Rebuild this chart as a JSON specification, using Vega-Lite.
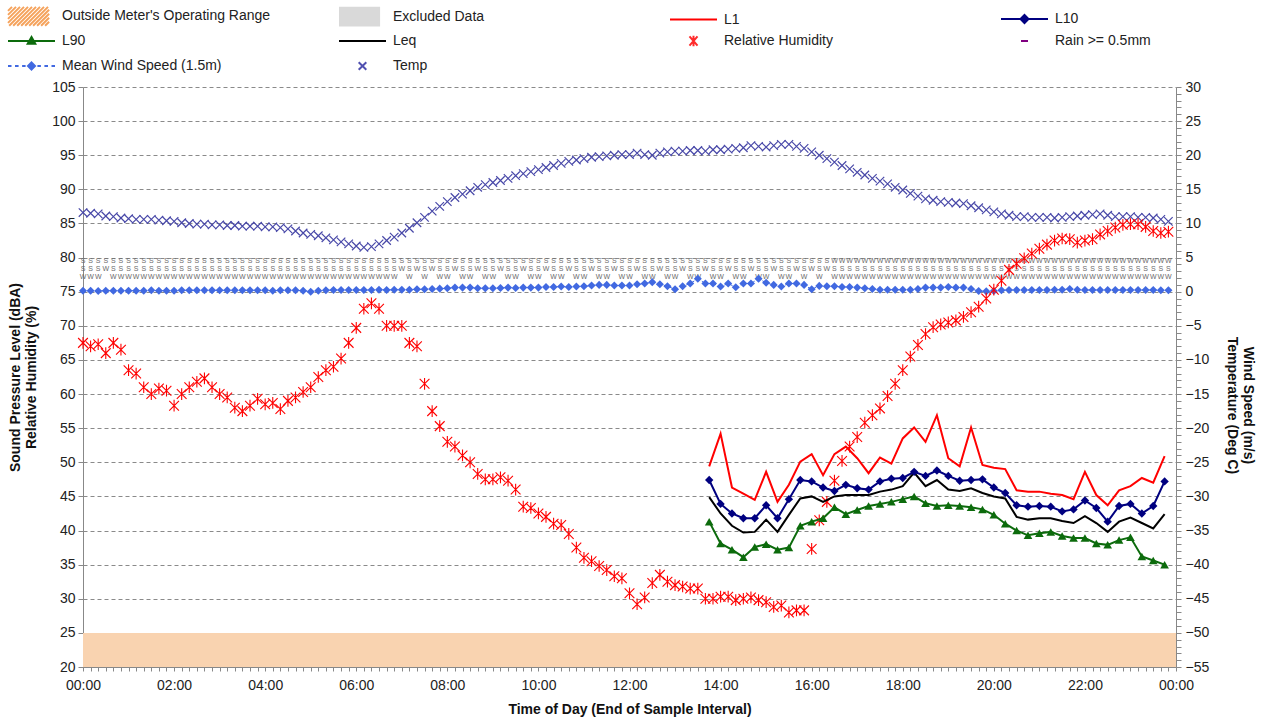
{
"$schema":"https://vega.github.io/schema/vega-lite/v6.json",
"width":1093,"height":580,
"autosize":{"type":"none"},
"padding":{"left":83,"top":87,"right":87,"bottom":56},
"background":"white",
"config":{"font":"Liberation Sans","view":{"stroke":null}},
"datasets":{
"band":[{"lo":20,"hi":25,"m0":0,"m1":1440}],
"keys":[{"name":"Outside Meter's Operating Range"},{"name":"Excluded Data"},{"name":"L1"},{"name":"L10"},{"name":"L90"},{"name":"Leq"},{"name":"Relative Humidity"},{"name":"Rain >= 0.5mm"},{"name":"Mean Wind Speed (1.5m)"},{"name":"Temp"}],
"noise":[
{"m":825,"L1":49.4,"L10":47.4,"Leq":44.9,"L90":41.3},
{"m":840,"L1":54.2,"L10":43.9,"Leq":42.5,"L90":38.1},
{"m":855,"L1":46.3,"L10":42.5,"Leq":40.7,"L90":37.2},
{"m":870,"L1":45.4,"L10":41.8,"Leq":39.7,"L90":36.1},
{"m":885,"L1":44.5,"L10":41.8,"Leq":39.8,"L90":37.6},
{"m":900,"L1":48.6,"L10":43.7,"Leq":41.6,"L90":38.0},
{"m":915,"L1":44.2,"L10":41.8,"Leq":39.8,"L90":37.2},
{"m":930,"L1":46.7,"L10":44.6,"Leq":42.3,"L90":37.5},
{"m":945,"L1":50.1,"L10":47.4,"Leq":44.7,"L90":40.7},
{"m":960,"L1":51.2,"L10":47.2,"Leq":45.0,"L90":41.3},
{"m":975,"L1":48.1,"L10":46.3,"Leq":44.2,"L90":41.8},
{"m":990,"L1":51.2,"L10":45.8,"Leq":45.0,"L90":43.4},
{"m":1005,"L1":52.3,"L10":46.7,"Leq":45.2,"L90":42.4},
{"m":1020,"L1":50.6,"L10":46.2,"Leq":45.2,"L90":43.0},
{"m":1035,"L1":48.4,"L10":46.0,"Leq":45.2,"L90":43.6},
{"m":1050,"L1":50.7,"L10":47.2,"Leq":45.7,"L90":43.9},
{"m":1065,"L1":49.8,"L10":47.6,"Leq":46.0,"L90":44.2},
{"m":1080,"L1":53.5,"L10":47.7,"Leq":46.5,"L90":44.6},
{"m":1095,"L1":55.1,"L10":48.6,"Leq":48.5,"L90":45.0},
{"m":1110,"L1":53.0,"L10":48.0,"Leq":46.5,"L90":44.0},
{"m":1125,"L1":56.9,"L10":48.8,"Leq":47.4,"L90":43.6},
{"m":1140,"L1":50.6,"L10":48.0,"Leq":46.0,"L90":43.7},
{"m":1155,"L1":49.4,"L10":47.3,"Leq":45.8,"L90":43.6},
{"m":1170,"L1":55.1,"L10":47.4,"Leq":46.2,"L90":43.4},
{"m":1185,"L1":49.6,"L10":47.5,"Leq":45.5,"L90":43.1},
{"m":1200,"L1":49.2,"L10":46.3,"Leq":45.0,"L90":42.3},
{"m":1215,"L1":49.0,"L10":45.5,"Leq":44.7,"L90":41.0},
{"m":1230,"L1":45.9,"L10":43.7,"Leq":42.0,"L90":40.0},
{"m":1245,"L1":45.7,"L10":43.5,"Leq":41.6,"L90":39.3},
{"m":1260,"L1":45.7,"L10":43.6,"Leq":41.8,"L90":39.6},
{"m":1275,"L1":45.4,"L10":43.5,"Leq":41.8,"L90":39.8},
{"m":1290,"L1":45.2,"L10":42.8,"Leq":41.4,"L90":39.2},
{"m":1305,"L1":44.6,"L10":43.1,"Leq":41.1,"L90":38.9},
{"m":1320,"L1":48.6,"L10":44.4,"Leq":42.1,"L90":38.9},
{"m":1335,"L1":45.2,"L10":43.3,"Leq":41.1,"L90":38.1},
{"m":1350,"L1":43.7,"L10":41.3,"Leq":39.8,"L90":37.9},
{"m":1365,"L1":45.9,"L10":43.6,"Leq":41.3,"L90":38.6},
{"m":1380,"L1":46.5,"L10":43.9,"Leq":41.9,"L90":39.0},
{"m":1395,"L1":47.7,"L10":42.5,"Leq":41.1,"L90":36.2},
{"m":1410,"L1":47.0,"L10":43.6,"Leq":40.3,"L90":35.6},
{"m":1425,"L1":50.9,"L10":47.2,"Leq":42.4,"L90":35.0}
],
"wx":[
{"m":0,"temp":11.6,"rh":67.5,"wind":0.15,"dir":"S|S|W"},
{"m":10,"temp":11.5,"rh":67.0,"wind":0.15,"dir":"S|S|W"},
{"m":20,"temp":11.4,"rh":67.3,"wind":0.1,"dir":"S|S|W"},
{"m":30,"temp":11.1,"rh":66.0,"wind":0.15,"dir":"S|W"},
{"m":40,"temp":11.0,"rh":67.5,"wind":0.15,"dir":"S|S|W"},
{"m":50,"temp":10.8,"rh":66.5,"wind":0.15,"dir":"S|S|W"},
{"m":60,"temp":10.7,"rh":63.5,"wind":0.15,"dir":"S|S|W"},
{"m":70,"temp":10.6,"rh":63.0,"wind":0.15,"dir":"S|S|W"},
{"m":80,"temp":10.6,"rh":61.0,"wind":0.15,"dir":"S|S|W"},
{"m":90,"temp":10.6,"rh":60.0,"wind":0.2,"dir":"S|S|W"},
{"m":100,"temp":10.5,"rh":60.8,"wind":0.15,"dir":"S|S|W"},
{"m":110,"temp":10.4,"rh":60.5,"wind":0.15,"dir":"S|S|W"},
{"m":120,"temp":10.3,"rh":58.3,"wind":0.15,"dir":"S|S|W"},
{"m":130,"temp":10.1,"rh":60.0,"wind":0.2,"dir":"S|S|W"},
{"m":140,"temp":10.0,"rh":61.0,"wind":0.2,"dir":"S|S|W"},
{"m":150,"temp":9.9,"rh":61.8,"wind":0.2,"dir":"S|S|W"},
{"m":160,"temp":9.9,"rh":62.3,"wind":0.2,"dir":"S|S|W"},
{"m":170,"temp":9.8,"rh":61.0,"wind":0.2,"dir":"S|S|W"},
{"m":180,"temp":9.8,"rh":60.0,"wind":0.2,"dir":"S|S|W"},
{"m":190,"temp":9.7,"rh":59.5,"wind":0.2,"dir":"S|S|W"},
{"m":200,"temp":9.7,"rh":58.0,"wind":0.2,"dir":"S|S|W"},
{"m":210,"temp":9.6,"rh":57.5,"wind":0.2,"dir":"S|S|W"},
{"m":220,"temp":9.6,"rh":58.3,"wind":0.2,"dir":"S|S|W"},
{"m":230,"temp":9.6,"rh":59.3,"wind":0.2,"dir":"S|S|W"},
{"m":240,"temp":9.5,"rh":58.5,"wind":0.2,"dir":"S|S|W"},
{"m":250,"temp":9.5,"rh":58.7,"wind":0.15,"dir":"S|S|W"},
{"m":260,"temp":9.4,"rh":57.8,"wind":0.2,"dir":"S|S|W"},
{"m":270,"temp":9.2,"rh":59.0,"wind":0.2,"dir":"S|S|W"},
{"m":280,"temp":8.9,"rh":59.5,"wind":0.2,"dir":"S|S|W"},
{"m":290,"temp":8.6,"rh":60.3,"wind":0.15,"dir":"S|S|W"},
{"m":300,"temp":8.4,"rh":61.0,"wind":0.0,"dir":"S|S|W"},
{"m":310,"temp":8.2,"rh":62.5,"wind":0.15,"dir":"S|S|W"},
{"m":320,"temp":7.9,"rh":63.5,"wind":0.2,"dir":"S|S|W"},
{"m":330,"temp":7.6,"rh":64.0,"wind":0.25,"dir":"S|S|W"},
{"m":340,"temp":7.3,"rh":65.2,"wind":0.25,"dir":"S|S|W"},
{"m":350,"temp":7.0,"rh":67.5,"wind":0.25,"dir":"S|S|W"},
{"m":360,"temp":6.7,"rh":69.7,"wind":0.25,"dir":"S|S|W"},
{"m":370,"temp":6.5,"rh":72.5,"wind":0.25,"dir":"S|S|W"},
{"m":380,"temp":6.6,"rh":73.3,"wind":0.25,"dir":"S|S|W"},
{"m":390,"temp":7.0,"rh":72.5,"wind":0.3,"dir":"S|S|W"},
{"m":400,"temp":7.5,"rh":70.0,"wind":0.25,"dir":"S|S|W"},
{"m":410,"temp":8.0,"rh":70.0,"wind":0.3,"dir":"S|S|W"},
{"m":420,"temp":8.6,"rh":70.0,"wind":0.3,"dir":"S|W"},
{"m":430,"temp":9.3,"rh":67.5,"wind":0.3,"dir":"S|S|W"},
{"m":440,"temp":10.1,"rh":67.0,"wind":0.35,"dir":"S|W"},
{"m":450,"temp":10.9,"rh":61.5,"wind":0.35,"dir":"S|S|W"},
{"m":460,"temp":11.8,"rh":57.5,"wind":0.4,"dir":"S|W"},
{"m":470,"temp":12.5,"rh":55.3,"wind":0.45,"dir":"S|S|W"},
{"m":480,"temp":13.2,"rh":53.0,"wind":0.5,"dir":"S|S|W"},
{"m":490,"temp":13.8,"rh":52.3,"wind":0.6,"dir":"S|W"},
{"m":500,"temp":14.3,"rh":51.0,"wind":0.6,"dir":"S|S|W"},
{"m":510,"temp":14.8,"rh":50.0,"wind":0.6,"dir":"S|S|W"},
{"m":520,"temp":15.3,"rh":48.3,"wind":0.5,"dir":"S|W"},
{"m":530,"temp":15.7,"rh":47.5,"wind":0.5,"dir":"S|S|W"},
{"m":540,"temp":16.0,"rh":47.5,"wind":0.5,"dir":"S|S|W"},
{"m":550,"temp":16.3,"rh":47.8,"wind":0.55,"dir":"S|W"},
{"m":560,"temp":16.6,"rh":47.3,"wind":0.6,"dir":"S|S|W"},
{"m":570,"temp":17.0,"rh":46.0,"wind":0.55,"dir":"S|S|W"},
{"m":580,"temp":17.3,"rh":43.5,"wind":0.6,"dir":"S|W"},
{"m":590,"temp":17.6,"rh":43.3,"wind":0.6,"dir":"S|S|W"},
{"m":600,"temp":17.9,"rh":42.5,"wind":0.6,"dir":"S|S|W"},
{"m":610,"temp":18.2,"rh":42.0,"wind":0.7,"dir":"S|W"},
{"m":620,"temp":18.5,"rh":41.0,"wind":0.7,"dir":"S|S|W"},
{"m":630,"temp":18.8,"rh":40.8,"wind":0.75,"dir":"S|S|W"},
{"m":640,"temp":19.1,"rh":39.5,"wind":0.7,"dir":"S|W"},
{"m":650,"temp":19.3,"rh":37.5,"wind":0.75,"dir":"S|S|W"},
{"m":660,"temp":19.5,"rh":36.0,"wind":0.8,"dir":"S|S|W"},
{"m":670,"temp":19.7,"rh":35.5,"wind":0.9,"dir":"S|W"},
{"m":680,"temp":19.8,"rh":34.8,"wind":1.0,"dir":"S|S|W"},
{"m":690,"temp":19.9,"rh":34.2,"wind":1.0,"dir":"S|S|W"},
{"m":700,"temp":20.0,"rh":33.3,"wind":0.9,"dir":"S|W"},
{"m":710,"temp":20.1,"rh":33.0,"wind":0.9,"dir":"S|S|W"},
{"m":720,"temp":20.1,"rh":30.8,"wind":0.9,"dir":"S|S|W"},
{"m":730,"temp":20.3,"rh":29.2,"wind":1.1,"dir":"S|W"},
{"m":740,"temp":20.1,"rh":30.2,"wind":1.2,"dir":"S|S|W"},
{"m":750,"temp":20.0,"rh":32.3,"wind":1.4,"dir":"S|S|W"},
{"m":760,"temp":20.3,"rh":33.5,"wind":1.1,"dir":"S|W"},
{"m":770,"temp":20.5,"rh":32.5,"wind":0.8,"dir":"S|S|W"},
{"m":780,"temp":20.6,"rh":32.0,"wind":0.35,"dir":"S|S|W"},
{"m":790,"temp":20.6,"rh":31.8,"wind":0.8,"dir":"S|W"},
{"m":800,"temp":20.7,"rh":31.5,"wind":1.2,"dir":"S|S|W"},
{"m":810,"temp":20.7,"rh":31.5,"wind":1.9,"dir":"S|S|W"},
{"m":820,"temp":20.6,"rh":30.0,"wind":1.2,"dir":"S|W"},
{"m":830,"temp":20.8,"rh":30.0,"wind":1.2,"dir":"S|S|W"},
{"m":840,"temp":20.8,"rh":30.3,"wind":0.75,"dir":"S|S|W"},
{"m":850,"temp":20.9,"rh":30.3,"wind":1.2,"dir":"S|W"},
{"m":860,"temp":21.0,"rh":29.8,"wind":0.65,"dir":"S|S|W"},
{"m":870,"temp":21.1,"rh":30.0,"wind":1.2,"dir":"S|S|W"},
{"m":880,"temp":21.4,"rh":30.2,"wind":1.2,"dir":"S|W"},
{"m":890,"temp":21.3,"rh":29.8,"wind":1.9,"dir":"S|S|W"},
{"m":900,"temp":21.2,"rh":29.5,"wind":1.3,"dir":"S|S|W"},
{"m":910,"temp":21.4,"rh":28.8,"wind":1.0,"dir":"S|W"},
{"m":920,"temp":21.6,"rh":29.0,"wind":0.75,"dir":"S|S|W"},
{"m":930,"temp":21.6,"rh":28.0,"wind":1.2,"dir":"S|S|W"},
{"m":940,"temp":21.3,"rh":28.3,"wind":1.2,"dir":"S|W"},
{"m":950,"temp":21.0,"rh":28.3,"wind":1.0,"dir":"S|S|W"},
{"m":960,"temp":20.5,"rh":37.3,"wind":0.35,"dir":"S|W"},
{"m":970,"temp":20.0,"rh":41.5,"wind":0.85,"dir":"S|S|W"},
{"m":980,"temp":19.5,"rh":44.2,"wind":0.8,"dir":"S|W"},
{"m":990,"temp":19.0,"rh":47.3,"wind":0.8,"dir":"W|S|W"},
{"m":1000,"temp":18.5,"rh":50.2,"wind":0.7,"dir":"W|S|W"},
{"m":1010,"temp":18.0,"rh":52.3,"wind":0.7,"dir":"W|S|W"},
{"m":1020,"temp":17.5,"rh":53.7,"wind":0.6,"dir":"W|S|W"},
{"m":1030,"temp":17.1,"rh":55.8,"wind":0.5,"dir":"W|S|W"},
{"m":1040,"temp":16.6,"rh":56.9,"wind":0.4,"dir":"W|S|W"},
{"m":1050,"temp":16.2,"rh":57.9,"wind":0.3,"dir":"W|S|W"},
{"m":1060,"temp":15.8,"rh":59.7,"wind":0.3,"dir":"W|S|W"},
{"m":1070,"temp":15.3,"rh":61.5,"wind":0.3,"dir":"W|S|W"},
{"m":1080,"temp":14.9,"rh":63.5,"wind":0.3,"dir":"W|S|W"},
{"m":1090,"temp":14.4,"rh":65.5,"wind":0.3,"dir":"W|S|W"},
{"m":1100,"temp":14.0,"rh":67.2,"wind":0.4,"dir":"W|S|W"},
{"m":1110,"temp":13.6,"rh":68.8,"wind":0.6,"dir":"W|S|W"},
{"m":1120,"temp":13.4,"rh":69.8,"wind":0.6,"dir":"W|S|W"},
{"m":1130,"temp":13.2,"rh":70.2,"wind":0.6,"dir":"W|S|W"},
{"m":1140,"temp":13.1,"rh":70.5,"wind":0.7,"dir":"W|S|W"},
{"m":1150,"temp":13.0,"rh":70.8,"wind":0.6,"dir":"W|S|W"},
{"m":1160,"temp":12.9,"rh":71.3,"wind":0.6,"dir":"W|S|W"},
{"m":1170,"temp":12.6,"rh":72.0,"wind":0.4,"dir":"W|S|W"},
{"m":1180,"temp":12.3,"rh":72.8,"wind":0.1,"dir":"W|S|W"},
{"m":1190,"temp":12.0,"rh":74.0,"wind":0.05,"dir":"W|S|W"},
{"m":1200,"temp":11.7,"rh":75.3,"wind":0.1,"dir":"W|S|W"},
{"m":1210,"temp":11.4,"rh":76.6,"wind":0.2,"dir":"W|S|W"},
{"m":1220,"temp":11.2,"rh":78.2,"wind":0.25,"dir":"W|S|W"},
{"m":1230,"temp":11.0,"rh":79.1,"wind":0.25,"dir":"W|S|W"},
{"m":1240,"temp":11.0,"rh":79.9,"wind":0.25,"dir":"W|S|W"},
{"m":1250,"temp":10.9,"rh":80.6,"wind":0.25,"dir":"W|S|W"},
{"m":1260,"temp":10.9,"rh":81.3,"wind":0.25,"dir":"W|S|W"},
{"m":1270,"temp":10.9,"rh":81.9,"wind":0.25,"dir":"W|S|W"},
{"m":1280,"temp":10.8,"rh":82.5,"wind":0.3,"dir":"W|S|W"},
{"m":1290,"temp":10.9,"rh":82.8,"wind":0.3,"dir":"W|S|W"},
{"m":1300,"temp":11.0,"rh":82.7,"wind":0.4,"dir":"W|S|W"},
{"m":1310,"temp":11.1,"rh":82.2,"wind":0.3,"dir":"W|S|W"},
{"m":1320,"temp":11.2,"rh":82.5,"wind":0.25,"dir":"W|S|W"},
{"m":1330,"temp":11.3,"rh":82.7,"wind":0.25,"dir":"W|S|W"},
{"m":1340,"temp":11.4,"rh":83.4,"wind":0.25,"dir":"W|S|W"},
{"m":1350,"temp":11.2,"rh":83.9,"wind":0.25,"dir":"W|S|W"},
{"m":1360,"temp":11.0,"rh":84.4,"wind":0.25,"dir":"W|S|W"},
{"m":1370,"temp":11.0,"rh":84.8,"wind":0.25,"dir":"W|S|W"},
{"m":1380,"temp":11.0,"rh":84.9,"wind":0.25,"dir":"W|S|W"},
{"m":1390,"temp":10.9,"rh":84.9,"wind":0.25,"dir":"W|S|W"},
{"m":1400,"temp":10.9,"rh":84.5,"wind":0.25,"dir":"W|S|W"},
{"m":1410,"temp":10.8,"rh":83.9,"wind":0.25,"dir":"W|S|W"},
{"m":1420,"temp":10.6,"rh":83.6,"wind":0.2,"dir":"W|S|W"},
{"m":1430,"temp":10.3,"rh":83.8,"wind":0.2,"dir":"W|S|W"}
]
},
"layer":[
{"data":{"name":"band"},
 "mark":{"type":"rect","color":"#f9d3b0"},
 "encoding":{
  "x":{"field":"m0","type":"quantitative",
   "scale":{"domain":[0,1440],"nice":false,"zero":false},
   "axis":{"title":"Time of Day (End of Sample Interval)","tickCount":144,
    "labelExpr":"datum.value % 120 == 0 ? ((floor(datum.value / 60) % 24) < 10 ? '0' : '') + (floor(datum.value / 60) % 24) + ':00' : ''",
    "labelOverlap":false,"labelFlush":false,"labelFontSize":14,"labelColor":"#222222","labelPadding":7,
    "tickSize":4,"tickColor":"#888888","domainColor":"#888888","grid":false,
    "titleFontSize":14,"titleFontWeight":"bold","titleColor":"#111111","titlePadding":10}},
  "x2":{"field":"m1"},
  "y":{"field":"lo","type":"quantitative","scale":{"domain":[20,105],"nice":false,"zero":false},
   "axis":{"orient":"left","values":[20,25,30,35,40,45,50,55,60,65,70,75,80,85,90,95,100,105],"labelOverlap":false,
    "title":["Sound Pressure Level (dBA)","Relative Humidity (%)"],
    "grid":true,"gridDash":[4,3],"gridColor":"#8a8a8a",
    "domainColor":"#888888","tickColor":"#888888","tickSize":5,"labelFontSize":14,"labelColor":"#222222","labelPadding":3,
    "titleFontSize":14,"titleFontWeight":"bold","titleColor":"#111111","titlePadding":13}},
  "y2":{"field":"hi"}}},
{"data":{"name":"keys"},
 "mark":{"type":"point","opacity":0,"size":400},
 "encoding":{
  "x":{"datum":720,"type":"quantitative"},
  "y":{"datum":60,"type":"quantitative","scale":{"domain":[20,105],"nice":false,"zero":false},"axis":null},
  "color":{"field":"name","type":"nominal",
   "scale":{"domain":["Outside Meter's Operating Range","Excluded Data","L1","L10","L90","Leq","Relative Humidity","Rain >= 0.5mm","Mean Wind Speed (1.5m)","Temp"],
    "range":["#f5a35d","#d9d9d9","#ff0000","#000080","#0c6b0c","#000000","#ff2a2a","#800080","#4169e1","#5050b0"]},
   "legend":{"title":null,"orient":"none","legendX":-76,"legendY":-82,"columns":4,"direction":"horizontal","gridAlign":"all",
    "columnPadding":64,"rowPadding":-3.5,"padding":0,"symbolSize":400,"labelFontSize":14,"labelColor":"#222222","labelOffset":33,"labelLimit":400,
    "symbolOpacity":1,"symbolStrokeWidth":2}},
  "shape":{"field":"name","type":"nominal",
   "scale":{"domain":["Outside Meter's Operating Range","Excluded Data","L1","L10","L90","Leq","Relative Humidity","Rain >= 0.5mm","Mean Wind Speed (1.5m)","Temp"],
    "range":[
     "M-1,-0.54L-0.6,-0.94M-1,-0.14L-0.2,-0.94M-1,0.26L0.2,-0.94M-1,0.66L0.6,-0.94M-0.88,0.94L1,-0.94M-0.48,0.94L1.4,-0.94M-0.08,0.94L1.8,-0.94M0.32,0.94L2.2,-0.94M0.72,0.94L2.6,-0.94M1.12,0.94L3,-0.94M1.51,0.94L3.11,-0.66M1.91,0.94L3.11,-0.26M2.31,0.94L3.11,0.14M2.71,0.94L3.11,0.54",
     "M-1,-0.89H3.11M-1,-0.75H3.11M-1,-0.61H3.11M-1,-0.47H3.11M-1,-0.33H3.11M-1,-0.19H3.11M-1,-0.05H3.11M-1,0.09H3.11M-1,0.23H3.11M-1,0.37H3.11M-1,0.51H3.11M-1,0.65H3.11M-1,0.79H3.11M-1,0.89H3.11",
     "M-1,0H3.7",
     "M-1,0H3.7M1.35,-0.4L1.75,0L1.35,0.4L0.95,0ZM1.35,-0.19L1.54,0L1.35,0.19L1.16,0Z",
     "M-1,0H3.7M1.35,-0.4L1.73,0.28L0.97,0.28ZM1.35,-0.14L1.51,0.16L1.19,0.16Z",
     "M-1,0H3.7",
     "M0.95,-0.47L1.75,0.47M1.75,-0.47L0.95,0.47M1.35,-0.52V0.52",
     "M1,0H1.7",
     "M-1,0H-0.65M-0.3,0H0.06M0.41,0H0.76M1.94,0H2.29M2.64,0H3M3.35,0H3.7M1.35,-0.35L1.7,0L1.35,0.35L1,0ZM1.35,-0.14L1.49,0L1.35,0.14L1.21,0Z",
     "M0.97,-0.38L1.73,0.38M1.73,-0.38L0.97,0.38"]},
   "legend":{"title":null}}}},
{"data":{"name":"wx"},
 "mark":{"type":"text","lineBreak":"|","fontSize":7,"lineHeight":8,"color":"#6a6a6a","baseline":"middle","align":"center"},
 "encoding":{"x":{"field":"m","type":"quantitative"},
  "y":{"datum":4.5,"type":"quantitative","scale":{"domain":[-55,30],"nice":false,"zero":false},
   "axis":{"orient":"right","tickCount":85,
    "labelExpr":"datum.value % 5 == 0 ? datum.label : ''","labelOverlap":false,
    "title":["Wind Speed (m/s)","Temperature (Deg C)"],"grid":false,"tickSize":5,
    "domainColor":"#888888","tickColor":"#888888","labelFontSize":14,"labelColor":"#222222","labelPadding":4,
    "titleFontSize":14,"titleFontWeight":"bold","titleColor":"#111111","titlePadding":16,"titleY":318}},
  "text":{"field":"dir"}}},
{"data":{"name":"wx"},
 "mark":{"type":"point","shape":"M-1,-1L1,1M1,-1L-1,1","filled":false,"stroke":"#4848a8","strokeWidth":1.2,"size":72,"opacity":1},
 "encoding":{"x":{"field":"m","type":"quantitative"},"y":{"field":"temp","type":"quantitative","scale":{"domain":[-55,30],"nice":false,"zero":false},"axis":null}}},
{"data":{"name":"wx"},
 "mark":{"type":"line","color":"#4169e1","strokeWidth":1,"strokeDash":[3,3],"point":{"shape":"diamond","size":65,"filled":true,"color":"#4169e1"}},
 "encoding":{"x":{"field":"m","type":"quantitative"},"y":{"field":"wind","type":"quantitative","scale":{"domain":[-55,30],"nice":false,"zero":false},"axis":null}}},
{"data":{"name":"wx"},
 "mark":{"type":"point","shape":"M-1,-1L1,1M1,-1L-1,1M0,-1.2V1.2","filled":false,"stroke":"#ff0000","strokeWidth":1.1,"size":95,"opacity":1},
 "encoding":{"x":{"field":"m","type":"quantitative"},"y":{"field":"rh","type":"quantitative","scale":{"domain":[20,105],"nice":false,"zero":false},"axis":null}}},
{"data":{"name":"noise"},
 "mark":{"type":"line","color":"#ff0000","strokeWidth":2},
 "encoding":{"x":{"field":"m","type":"quantitative"},"y":{"field":"L1","type":"quantitative","scale":{"domain":[20,105],"nice":false,"zero":false},"axis":null}}},
{"data":{"name":"noise"},
 "mark":{"type":"line","color":"#000000","strokeWidth":2},
 "encoding":{"x":{"field":"m","type":"quantitative"},"y":{"field":"Leq","type":"quantitative","scale":{"domain":[20,105],"nice":false,"zero":false},"axis":null}}},
{"data":{"name":"noise"},
 "mark":{"type":"line","color":"#000080","strokeWidth":2,"point":{"shape":"diamond","size":70,"filled":true,"color":"#000080"}},
 "encoding":{"x":{"field":"m","type":"quantitative"},"y":{"field":"L10","type":"quantitative","scale":{"domain":[20,105],"nice":false,"zero":false},"axis":null}}},
{"data":{"name":"noise"},
 "mark":{"type":"line","color":"#0c6b0c","strokeWidth":2,"point":{"shape":"triangle-up","size":75,"filled":true,"color":"#0c6b0c"}},
 "encoding":{"x":{"field":"m","type":"quantitative"},"y":{"field":"L90","type":"quantitative","scale":{"domain":[20,105],"nice":false,"zero":false},"axis":null}}}
],
"resolve":{"scale":{"y":"independent"}}
}
